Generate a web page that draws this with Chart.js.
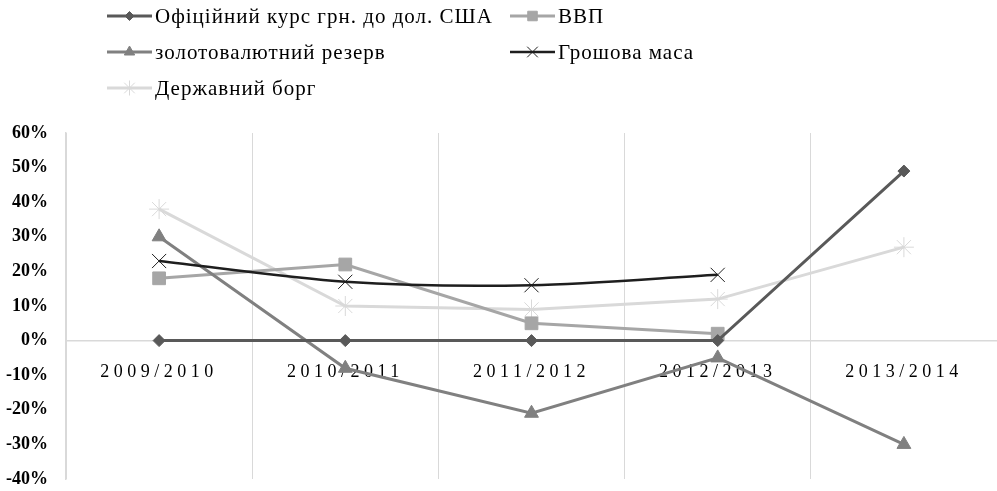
<!DOCTYPE html>
<html>
<head>
<meta charset="utf-8">
<script src="https://cdn.jsdelivr.net/npm/chart.js@4/dist/chart.umd.min.js"></script>
<style>
  html, body { margin: 0; padding: 0; background: #fff; }
  #wrap { width: 997px; height: 491px; position: relative; }
</style>
</head>
<body>
<div id="wrap"><canvas id="chart"></canvas></div>
<script>
// ── Data ──
const years      = ['2009/2010', '2010/2011', '2011/2012', '2012/2013', '2013/2014'];
const seriesNames = ['Офіційний курс грн. до дол. США', 'ВВП', 'золотовалютний резерв', 'Грошова маса', 'Державний борг'];
const kursUah    = [0, 0, 0, 0, 49];
const vvp        = [18, 22, 5, 2, null];
const reserves   = [30, -8, -21, -5, -30];
const moneySupply = [23, 17, 16, 19, null];
const stateDebt  = [38, 10, 9, 12, 27];
const yTicks     = [-40, -30, -20, -10, 0, 10, 20, 30, 40, 50, 60];

const serif = "'Liberation Serif', 'Times New Roman', serif";

// legend drawn in an Excel-like 2 column grid
const legendGrid = [
    { ds: 0, x: 107, y: 16 },
    { ds: 1, x: 510, y: 16 },
    { ds: 2, x: 107, y: 52 },
    { ds: 3, x: 510, y: 52 },
    { ds: 4, x: 107, y: 88 }
];

const gridLegend = {
    id: 'gridLegend',
    afterDraw(chart) {
        const ctx = chart.ctx;
        ctx.save();
        ctx.font = '21px ' + serif;
        ctx.textBaseline = 'middle';
        legendGrid.forEach(it => {
            const ds = chart.data.datasets[it.ds];
            ctx.strokeStyle = ds.borderColor;
            ctx.lineWidth = ds.borderWidth;
            ctx.beginPath();
            ctx.moveTo(it.x, it.y);
            ctx.lineTo(it.x + 45, it.y);
            ctx.stroke();
            ctx.fillStyle = ds.pointBackgroundColor;
            ctx.strokeStyle = ds.pointBorderColor;
            ctx.lineWidth = ds.pointBorderWidth;
            Chart.helpers.drawPoint(ctx, {
                pointStyle: ds.pointStyle, rotation: 0,
                radius: ds.pointRadius * 0.75, borderWidth: ds.pointBorderWidth
            }, it.x + 22.5, it.y);
            ctx.fillStyle = '#000';
            ctx.letterSpacing = '1px';
            ctx.fillText(ds.label, it.x + 48, it.y + 1);
            ctx.letterSpacing = '0px';
        });
        ctx.restore();
    }
};

// spaced-out category labels like the original
const spacedXLabels = {
    id: 'spacedXLabels',
    afterUpdate(chart) {
        const sc = chart.scales.x;
        if (!sc || sc._spaced) return;
        const orig = sc.drawLabels.bind(sc);
        sc.drawLabels = function (area) {
            chart.ctx.save();
            chart.ctx.letterSpacing = '4.5px';
            orig(area);
            chart.ctx.restore();
        };
        sc._spaced = true;
    }
};

// let layout.padding alone decide where the plot area sits
// (the plot runs a few px past the right edge in the original)
const noAxisPadding = axis => {
    axis.paddingLeft = axis.paddingTop = axis.paddingBottom = 0;
    axis.paddingRight = -4;
};

function mkSet(i, data, color, style, radius, width, extra) {
    return Object.assign({
        label: seriesNames[i],
        data: data,
        borderColor: color,
        borderWidth: width,
        pointStyle: style,
        pointRadius: radius,
        pointHoverRadius: radius,
        pointBackgroundColor: color,
        pointBorderColor: color,
        pointBorderWidth: 1,
        tension: 0,
        fill: false
    }, extra || {});
}

new Chart(document.getElementById('chart').getContext('2d'), {
    type: 'line',
    data: {
        labels: years,
        datasets: [
            mkSet(0, kursUah, '#595959', 'rectRot', 6, 3, { order: 0 }),
            mkSet(1, vvp, '#a6a6a6', 'rect', 9, 3, { order: 3 }),
            mkSet(2, reserves, '#808080', 'triangle', 8, 3, { order: 2 }),
            mkSet(3, moneySupply, '#1e1e1e', 'crossRot', 10, 2.5, { order: 1, tension: 0.3 }),
            mkSet(4, stateDebt, '#d9d9d9', 'star', 10, 3, { order: 4 })
        ]
    },
    options: {
        responsive: true,
        maintainAspectRatio: false,
        animation: false,
        layout: { autoPadding: false, padding: { top: 133, left: 6, right: -4, bottom: 12 } },
        plugins: {
            legend: { display: false },
            tooltip: { enabled: false }
        },
        scales: {
            x: {
                type: 'category',
                offset: true,
                position: { y: 0 },
                afterFit: noAxisPadding,
                grid: { offset: true, color: '#d9d9d9', lineWidth: 1, drawTicks: false },
                border: { display: true, color: '#d9d9d9', width: 1.5 },
                ticks: {
                    color: '#000', padding: 21, maxRotation: 0, autoSkip: false,
                    font: { family: serif, size: 18 }
                }
            },
            y: {
                min: -40,
                max: 60,
                afterBuildTicks: axis => { axis.ticks = yTicks.map(v => ({ value: v })); },
                afterFit: axis => { axis.width = 60; noAxisPadding(axis); },
                grid: { drawOnChartArea: false, drawTicks: false },
                border: { display: true, color: '#d9d9d9', width: 1.5 },
                ticks: {
                    color: '#000', padding: 18,
                    font: { family: serif, size: 18, weight: 'bold' },
                    callback: v => v + '%'
                }
            }
        }
    },
    plugins: [gridLegend, spacedXLabels]
});
</script>
</body>
</html>
